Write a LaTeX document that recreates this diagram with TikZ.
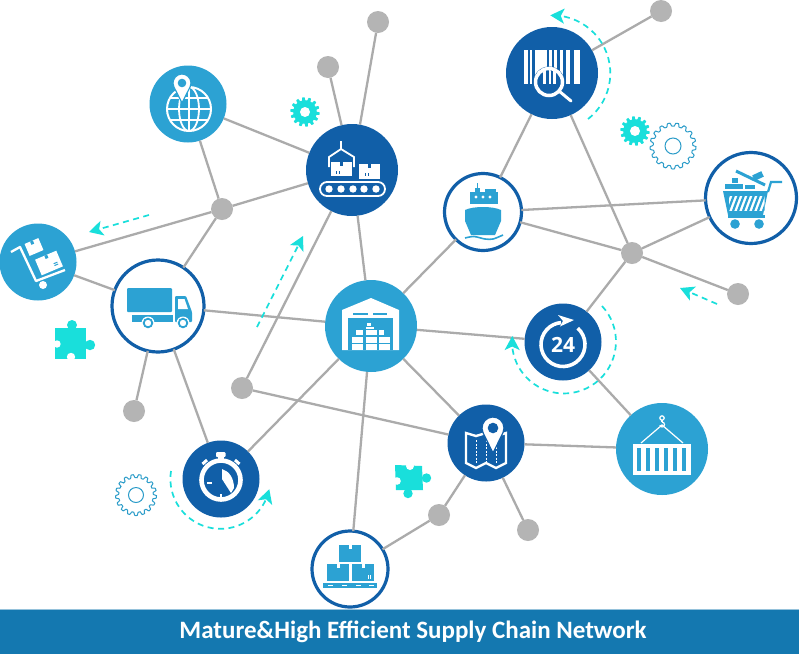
\documentclass[tikz,border=0pt]{standalone}
\usepackage{fontspec}
\setmainfont{Carlito}
\newfontfamily\digitfont{Open Sans}
\usetikzlibrary{arrows.meta,bending}
\definecolor{deepb}{HTML}{115FA8}
\definecolor{liteb}{HTML}{2CA2D3}
\definecolor{tealc}{HTML}{19DFDB}
\definecolor{hubg}{HTML}{B4B4B4}
\definecolor{edgeg}{HTML}{ABABAB}
\definecolor{barb}{HTML}{1478B0}
\definecolor{gearb}{HTML}{2B9CC9}
\tikzset{
  disc/.style={circle,inner sep=0pt,outer sep=0pt,minimum size=#1},
  deepn/.style={disc=#1,fill=deepb},
  liten/.style={disc=#1,fill=liteb},
  ringn/.style={disc=#1,fill=white,draw=deepb,line width=3.2pt},
  hubn/.style={disc=22,fill=hubg},
  link/.style={draw=edgeg,line width=2.3pt},
  flow/.style={draw=tealc,line width=1.7pt,dash pattern=on 6pt off 4.5pt,
     -{Stealth[length=14pt,width=15pt,inset=3.5pt,flex=1]}},
  wl/.style={draw=white,line width=#1},
  wl/.default=2pt
}
% solid gear
\newcommand{\solidgear}[5]{% x y R hole n
  \fill[tealc] plot[domain=0:360,samples=240] ({#1+(#3-1.3+1.5*max(-1,min(1,3*sin(#5*\x))))*cos(\x)},{#2+(#3-1.3+1.5*max(-1,min(1,3*sin(#5*\x))))*sin(\x)}) -- cycle;
  \fill[white] (#1,#2) circle (#4);
}
% outlined gear
\newcommand{\linegear}[5]{%
  \draw[gearb,line width=1pt] plot[domain=0:360,samples=200,smooth] ({#1+(#3-1.6+1.6*max(-1,min(1,2*sin(#5*\x))))*cos(\x)},{#2+(#3-1.6+1.6*max(-1,min(1,2*sin(#5*\x))))*sin(\x)}) -- cycle;
  \draw[gearb,line width=1pt] (#1,#2) circle (#4);
}
% pin: cx cy r tipy holeR holecolor bordercolor
\newcommand{\mappin}[7]{%
  \path[fill=white,draw=#7,line width=1.2pt] ([shift={(#1,#2)}]155:#3) arc[start angle=155,end angle=385,radius=#3] -- (#1,#4) -- cycle;
  \fill[#6] (#1,#2) circle (#5);
}
% carton: x1 y1 x2 y2 colour marks
\newcommand{\carton}[6]{%
  \fill[#5] (#1,#2) rectangle (#3,#4);
  \fill[#6] ({(#1+#3)/2-1.5},#2) rectangle ({(#1+#3)/2+1.5},{#2+3.5});
}
\begin{document}
\begin{tikzpicture}[x=1pt,y=-1pt]
\useasboundingbox (0,0) rectangle (799,654);
\fill[white] (0,0) rectangle (799,654);
% ---------- nodes
\node[deepn=92] (barcode) at (552,73) {};
\node[ringn=77] (ship) at (483,212) {};
\node[ringn=91] (cart) at (751,198) {};
\node[deepn=77] (clock) at (563,342) {};
\node[liten=92] (container) at (662,449) {};
\node[deepn=77] (map) at (486,443) {};
\node[liten=92] (warehouse) at (371,326) {};
\node[ringn=92] (truck) at (158,306) {};
\node[liten=77] (trolley) at (38,262) {};
\node[liten=77] (globe) at (188,104) {};
\node[deepn=92] (conveyor) at (352,170) {};
\node[deepn=77] (watch) at (221,479) {};
\node[ringn=76] (boxes) at (350,569) {};
\node[hubn] (hubR) at (632,253) {};
\node[hubn] (hubL) at (222,209) {};
\node[hubn] (gA) at (661,11) {};
\node[hubn] (gB) at (738,294) {};
\node[hubn] (gC) at (328,67) {};
\node[hubn] (gD) at (378,22) {};
\node[hubn] (gE) at (242,388) {};
\node[hubn] (gF) at (134,411) {};
\node[hubn] (gG) at (439,515) {};
\node[hubn] (gH) at (528,530) {};
% ---------- connectors
\foreach \a/\b in {globe/conveyor,globe/hubL,conveyor/hubL,hubL/trolley,hubL/truck,trolley/truck,
  truck/warehouse,truck/gF,truck/watch,conveyor/warehouse,conveyor/gE,conveyor/gC,conveyor/gD,
  warehouse/ship,warehouse/clock,warehouse/map,warehouse/watch,warehouse/boxes,gE/map,map/container,
  map/gG,map/gH,boxes/gG,clock/hubR,clock/container,barcode/ship,barcode/hubR,barcode/gA,
  ship/cart,ship/hubR,cart/hubR,hubR/gB}
  \draw[link] (\a) -- (\b);
% ---------- bar
\fill[barb] (0,609.5) rectangle (799,654);
\draw[line width=0.8pt,color=barb!45] (0,609.3) -- (799,609.3);
\node[text=white,font=\bfseries\fontsize{25}{27}\selectfont,inner sep=0pt] (title) at (413,632) {Mature\&High Efficient Supply Chain Network};
% ---------- dashed arrows
\coordinate (f1a) at (149,215); \coordinate (f1b) at (89,232);
\coordinate (f2a) at (257,327); \coordinate (f2b) at (303,236);
\coordinate (f3a) at (717,304); \coordinate (f3b) at (680,288);
\draw[flow] (f1a) -- (f1b);
\draw[flow] (f2a) -- (f2b);
\draw[flow] (f3a) -- (f3b);
\coordinate (f4a) at (588,119);
\draw[flow] (f4a) arc[start angle=52,end angle=-92,radius=58];
\coordinate (f5a) at (602,306);
\draw[flow] (f5a) arc[start angle=-43,end angle=186,radius=52];
\coordinate (f6a) at (171,471);
\draw[flow] (f6a) arc[start angle=189,end angle=12,radius=50];
% ---------- gears
\solidgear{305}{112}{14.5}{5}{14}
\solidgear{635}{131}{14.5}{5}{14}
\linegear{673}{146}{23}{8}{17}
\linegear{136}{495}{20.5}{7.5}{17}
% ---------- puzzle pieces
\begin{scope}[shift={(70,343)}]
 \fill[tealc] (-15,-15) rectangle (16,16);
 \fill[tealc] (2,-18) circle (5); \fill[tealc] (0,-15) rectangle (4,-11);
 \fill[tealc] (20,2) circle (5.2); \fill[tealc] (14,0) rectangle (18,4);
 \fill[white] (-13,1) circle (3.7); \fill[white] (1,14) circle (4.2);
 \fill[white] (-16,-2) rectangle (-12,3); \fill[white] (-1.5,13) rectangle (3,17);
\end{scope}
\begin{scope}[shift={(409,478)}]
 \fill[tealc] (-14,-13) -- (13,-12) -- (14,12) -- (-13,12) -- cycle;
 \fill[tealc] (17.5,0) circle (4.7);
 \fill[tealc] (-1,15.5) circle (4.7);
 \fill[white] (1,-12) circle (4); \fill[white] (-1,-15) rectangle (3,-12);
 \fill[white] (-12,3) circle (3.8); \fill[white] (-15,1) rectangle (-11.5,5);
\end{scope}
% ---------- globe
\begin{scope}[shift={(globe.center)}]
 \draw[wl=2pt] (1,5) circle (22);
 \draw[wl=1.8pt] (1,5) ellipse (10 and 22);
 \draw[wl=1.8pt] (1,-17) -- (1,27);
 \draw[wl=1.8pt] (-21,5) -- (23,5);
 \draw[wl=1.8pt] (-18,-6) -- (20,-6);
 \draw[wl=1.8pt] (-18,16) -- (20,16);
 \mappin{-6}{-21}{9}{-1}{4.3}{liteb}{liteb}
\end{scope}
% ---------- conveyor
\begin{scope}[shift={(conveyor.center)}]
 \draw[wl=1.8pt,rounded corners=7] (-32,12) rectangle (33,26);
 \foreach \c in {-23,-11,1,12,24} \fill[white] (\c,19) circle (3.7);
 \carton{-21}{-8}{0}{6}{white}{deepb}
 \carton{7}{-6}{28}{9}{white}{deepb}
 \draw[wl=1.8pt] (-11,-29) -- (-11,-21) -- (-23,-13) -- (-23,-3);
 \draw[wl=1.8pt] (-11,-21) -- (2,-13) -- (2,-3);
 \fill[deepb] (-16,1) rectangle (-15,4); \fill[deepb] (-13,1) rectangle (-12,4);
 \fill[deepb] (13,3) rectangle (14,6); \fill[deepb] (16,3) rectangle (17,6);
\end{scope}
% ---------- trolley
\begin{scope}[shift={(trolley.center)}]
 \draw[wl=2.3pt,line join=round] (-27,-10) -- (-18,-15) -- (-2,19) -- (27,8);
 \fill[white] (5,23) circle (4);
 \begin{scope}[shift={(11,1)},rotate=23]
  \carton{-11.5}{-8.5}{11.5}{8.5}{white}{liteb}
  \fill[liteb] (4,2) rectangle (8,3); \fill[liteb] (4,4) rectangle (8,5);
 \end{scope}
 \begin{scope}[shift={(-4,-15)},rotate=23]
  \carton{-7.5}{-6.5}{7.5}{6.5}{white}{liteb}
 \end{scope}
\end{scope}
% ---------- truck
\begin{scope}[shift={(truck.center)}]
 \fill[liteb,rounded corners=1] (-31,-18) rectangle (14,6);
 \fill[liteb] (-26,9) rectangle (15,16);
 \fill[liteb,rounded corners=1] (17,-10) -- (28,-10) -- (34,6) -- (34,16) -- (17,16) -- cycle;
 \fill[white] (20,-7) -- (26.5,-7) -- (30,3) -- (20,3) -- cycle;
 \foreach \c in {-10,25} {
  \fill[white] (\c,17) circle (6.5);
  \draw[liteb,line width=1.8pt] (\c,17) circle (4.3);
 }
\end{scope}
% ---------- warehouse
\begin{scope}[shift={(warehouse.center)}]
 \fill[white] (-29,24) -- (-29,-16) -- (0,-28) -- (28,-16) -- (28,24) -- cycle;
 \fill[liteb] (-23,-8) rectangle (22,24);
 \fill[liteb] (-18,-13) rectangle (-3,-11); \fill[liteb] (2,-13) rectangle (16,-11);
 \foreach \c/\d in {-19/-8,-5/6,8/19} {
  \fill[white] (\c,18) rectangle (\d,24);
  \fill[white] (\c,10.5) rectangle (\d,16.5);
 }
 \fill[white] (-15.5,4) rectangle (-8,9);
 \fill[white] (-5,4) rectangle (6,9);
 \fill[white] (8,4) rectangle (13,9);
 \fill[white] (-4,-3) rectangle (0,0);
 \fill[white] (-5,0.8) rectangle (3,2.6);
\end{scope}
% ---------- ship
\begin{scope}[shift={(ship.center)}]
 \fill[liteb] (-18,-2) .. controls (-10,-6) and (10,-6) .. (18,-2) -- (18,9) -- (12,23) -- (-12,23) -- (-18,9) -- cycle;
 \fill[liteb] (-13,-20) rectangle (15,-8);
 \fill[liteb] (-8,-24) rectangle (-3,-20);
 \fill[liteb] (-6.2,-29) rectangle (-5.2,-24);
 \fill[liteb] (2,-23) rectangle (13,-20);
 \foreach \c in {-7,0,7} \fill[white] (\c,-15) circle (1.6);
 \draw[liteb,line width=1.6pt] plot[smooth] coordinates {(-18,26) (-9,24.5) (2,27) (10,27) (20,23)};
\end{scope}
% ---------- barcode
\begin{scope}[shift={(barcode.center)}]
 \foreach \p/\q in {-28/-24.3,-21.7/-19.7,-17.3/-5,-3.3/0,2.3/5,8.3/10.7,14/18,21.7/28.3}
   \fill[white] (\p,-23) rectangle (\q,11);
 \fill[deepb] (-3,9) circle (15.5);
 \begin{scope}
  \clip (-3,9) circle (12);
  \foreach \p/\q in {-9/-6,-3.5/-1,1/3.5} \fill[white] (\p,-6) rectangle (\q,11);
 \end{scope}
 \draw[wl=3.5pt] (-3,9) circle (13.5);
 \draw[wl=3pt,line cap=round] (7,18) -- (19,28);
\end{scope}
% ---------- cart
\begin{scope}[shift={(cart.center)}]
 \fill[liteb] (-28,-7) -- (17,-7) -- (12,17) -- (-23,17) -- cycle;
 \fill[liteb] (-23,17) rectangle (14,19.5);
 \begin{scope}
  \clip (-22,-2) rectangle (13.5,12.5);
  \fill[white] (-22,-2) rectangle (14,13);
  \foreach \p in {-28,-23,...,14} \draw[liteb,line width=2.2pt] (\p,13) -- (\p+6,-3);
 \end{scope}
 \draw[liteb,line width=2.2pt] (17,-6) -- (20,-16) -- (31,-16);
 \fill[liteb] (-16,26) circle (4.8); \fill[liteb] (8,26) circle (4.8);
 \fill[liteb] (-26,-14) rectangle (-8,-9);
 \fill[liteb] (-19,-20) rectangle (-13,-15.5);
 \fill[liteb] (-6,-13) rectangle (4,-9);
 \draw[liteb,line width=3pt] (-15,-27) -- (14,-13);
 \fill[liteb,rotate around={25:(7,-22)}] (2,-25) rectangle (12,-19);
\end{scope}
% ---------- clock 24
\begin{scope}[shift={(clock.center)}]
 \draw[wl=3.6pt] ([shift={(0,2.5)}]-48:22) arc[start angle=-48,end angle=-95+360,radius=22];
 \fill[white] (-5,-27) -- (11,-22) -- (-3,-15.5) -- (0,-21) -- cycle;
 \node[text=white,inner sep=0pt,font=\digitfont\bfseries\fontsize{21}{21}\selectfont] (lab24) at (0,3) {24};
\end{scope}
% ---------- container
\begin{scope}[shift={(container.center)}]
 \fill[white] (-29,-5) rectangle (29,26);
 \foreach \c in {-22.7,-13.7,-4.7,4.3,13.3,22.3} \fill[liteb] (\c-2,-1) rectangle (\c+2,21.5);
 \draw[wl=1.2pt] (-21,-6) -- (0,-24) -- (21,-6);
 \draw[wl=1.2pt] (0,-31) circle (2.2);
 \draw[wl=1.2pt] (0,-29) -- (0,-27);
 \draw[wl=1.2pt] (0,-27) arc[start angle=-90,end angle=160,radius=2.5];
\end{scope}
% ---------- map
\begin{scope}[shift={(map.center)}]
 \draw[wl=2.4pt,line join=miter] (-20,-10) -- (-10,-7) -- (0,-10) -- (10,-7) -- (20,-10) -- (20,20) -- (10,25) -- (0,20) -- (-10,25) -- (-20,20) -- cycle;
 \foreach \c in {-10,0,10} \draw[draw=white,line width=0.8pt,dash pattern=on 2pt off 1.5pt] (\c,-3) -- (\c,20);
 \mappin{7}{-15}{11}{10}{5.3}{deepb}{deepb}
\end{scope}
% ---------- watch
\begin{scope}[shift={(watch.center)}]
 \draw[wl=4.6pt] (0,1) circle (19.5);
 \fill[white,rounded corners=1] (-5,-27) rectangle (4.5,-22);
 \fill[white] (-3,-22) rectangle (2.5,-17);
 \draw[wl=3pt] (-18.5,-15) -- (-14,-19);
 \draw[wl=3pt] (18.5,-15) -- (14,-19);
 \fill[white] (1,-10) .. controls (8,-8) and (13,-1) .. (13,9) -- (10,14) -- (1,0) -- cycle;
 \draw[wl=2pt] (-14,4) -- (-9,4);
 \draw[wl=2pt] (0,15) -- (0,20);
\end{scope}
% ---------- boxes
\begin{scope}[shift={(boxes.center)}]
 \carton{-11}{-24}{11}{-7}{liteb}{white}
 \carton{-23}{-5}{-1}{12}{liteb}{white}
 \carton{2}{-5}{24}{12}{liteb}{white}
 \fill[liteb] (-27,14) rectangle (27,19);
 \foreach \c in {-22,-8,6,19} \fill[white] (\c,15.7) rectangle (\c+5,17.2);
 \fill[white] (18,6) rectangle (18.8,10); \fill[white] (20.2,6) rectangle (21,10);
\end{scope}
\end{tikzpicture}
\end{document}
